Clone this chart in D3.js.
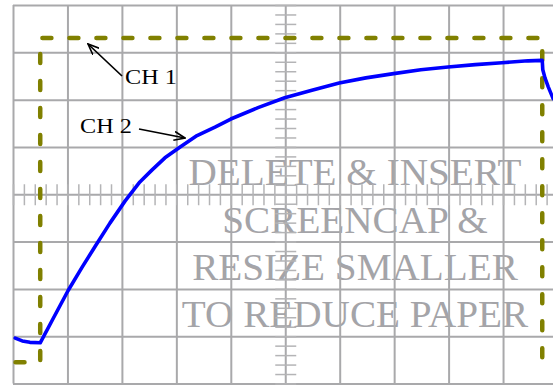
<!DOCTYPE html>
<html>
<head>
<meta charset="utf-8">
<script src="https://cdn.jsdelivr.net/npm/d3@7"></script>
<style>
  html, body { margin: 0; padding: 0; background: #fff; }
  svg { display: block; }
</style>
</head>
<body>
<svg id="scope" width="553" height="385"></svg>
<script>
// Screen grid: 10 horizontal divisions, 8 vertical divisions, 5 minor steps each
const xDivisions = d3.range(0, 11);
const yDivisions = d3.range(-4, 5);
const minorStep = 0.2;

// CH 1: square gate (time in divisions, level in divisions)
const ch1Time  = [0, 0.5, 0.5, 9.72, 9.72, 10.5];
const ch1Level = [-3.55, -3.55, 3.30, 3.30, -3.55, -3.55];

// CH 2: response trace
const ch2Time  = [0.04, 0.17, 0.31, 0.50, 0.75, 1.01, 1.27, 1.51, 1.78, 2.06, 2.33, 2.55, 2.79, 3.07,
                  3.38, 3.71, 4.00, 4.50, 4.99, 5.49, 5.99, 6.48, 6.99, 7.49, 7.99, 8.49, 8.98, 9.46,
                  9.72, 9.73, 9.77, 9.83, 9.92];
const ch2Level = [-3.04, -3.10, -3.13, -3.14, -2.60, -2.04, -1.54, -1.10, -0.61, -0.14, 0.26, 0.51, 0.77, 1.00,
                  1.24, 1.42, 1.59, 1.83, 2.04, 2.20, 2.35, 2.46, 2.55, 2.63, 2.69, 2.74, 2.78, 2.82,
                  2.83, 2.63, 2.46, 2.27, 2.02];

// Placeholder caption and channel labels
const captionLines = ["DELETE & INSERT", "SCREENCAP &", "RESIZE SMALLER", "TO REDUCE PAPER"];
const channelLabels = ["CH 1", "CH 2"];

const svg = d3.select("#scope");

const x = d3.scaleLinear().domain([0, 10]).range([13, 557.5]);
const y = d3.scaleLinear().domain([-4, 4]).range([383.5, 5]);

const gridColor = "#a9a9ab";
const textGray = "#a4a4a8";
const olive = "#808000";
const serif = "'Liberation Serif', 'Times New Roman', Times, serif";

// Caption (drawn under the graticule)
const caption = svg.append("g").attr("class", "caption");
const rowStep = y(0) - y(1);
captionLines.forEach((line, i) => {
  caption.append("text")
    .attr("transform", `translate(355,${y(0) - 9 + i * rowStep}) scale(1.06,1)`)
    .attr("text-anchor", "middle")
    .attr("font-family", serif)
    .attr("font-size", 37)
    .attr("fill", textGray)
    .text(line);
});

// Graticule: major lines
const grid = svg.append("g").attr("class", "grid");
grid.append("g")
  .attr("transform", `translate(0,${y(-4)})`)
  .call(d3.axisTop(x).tickValues(xDivisions).tickSize(y(-4) - y(4)).tickFormat(""))
  .call(g => g.select(".domain").remove())
  .call(g => g.selectAll(".tick line").attr("stroke", gridColor).attr("stroke-width", 2));
grid.append("g")
  .attr("transform", `translate(${x(0)},0)`)
  .call(d3.axisRight(y).tickValues(yDivisions).tickSize(x(10) - x(0)).tickFormat(""))
  .call(g => g.select(".domain").remove())
  .call(g => g.selectAll(".tick line").attr("stroke", gridColor).attr("stroke-width", 2));

// Graticule: minor ticks on the centre axes
const minorX = d3.range(0, 10 + 1e-9, minorStep).map(v => +v.toFixed(2));
const minorY = d3.range(-4, 4 + 1e-9, minorStep).map(v => +v.toFixed(2));
grid.append("g")
  .attr("transform", `translate(0,${y(0) - 10})`)
  .call(d3.axisBottom(x).tickValues(minorX).tickSize(21).tickFormat(""))
  .call(g => g.select(".domain").remove())
  .call(g => g.selectAll(".tick line").attr("stroke", "#b4b4b6").attr("stroke-width", 1.5));
grid.append("g")
  .attr("transform", `translate(${x(5) - 10},0)`)
  .call(d3.axisRight(y).tickValues(minorY).tickSize(21).tickFormat(""))
  .call(g => g.select(".domain").remove())
  .call(g => g.selectAll(".tick line").attr("stroke", "#b4b4b6").attr("stroke-width", 1.5));

// Traces
const line = d3.line().x(d => x(d[0])).y(d => y(d[1]));

svg.append("path")
  .datum(d3.zip(ch1Time, ch1Level))
  .attr("d", line)
  .attr("fill", "none")
  .attr("stroke", olive)
  .attr("stroke-width", 4.5)
  .attr("stroke-linecap", "round")
  .attr("stroke-dasharray", "9,18")
  .attr("stroke-dashoffset", -2.5);

svg.append("path")
  .datum(d3.zip(ch2Time, ch2Level))
  .attr("d", line)
  .attr("fill", "none")
  .attr("stroke", "#0000ff")
  .attr("stroke-width", 3.6)
  .attr("stroke-linejoin", "round")
  .attr("stroke-linecap", "round");

// Channel labels with pointer arrows
svg.append("defs").append("marker")
  .attr("id", "head")
  .attr("viewBox", "0 0 12 10")
  .attr("refX", 11).attr("refY", 5)
  .attr("markerWidth", 12).attr("markerHeight", 10)
  .attr("markerUnits", "userSpaceOnUse")
  .attr("orient", "auto")
  .append("path")
  .attr("d", "M0,0.5 L11,5 L0,9.5")
  .attr("fill", "none")
  .attr("stroke", "#000")
  .attr("stroke-width", 1.6);

svg.append("text")
  .attr("transform", "translate(125,84) scale(1.1,1)")
  .attr("font-family", serif).attr("font-size", 22).attr("fill", "#000")
  .text(channelLabels[0]);
svg.append("line")
  .attr("x1", 122).attr("y1", 76).attr("x2", 88).attr("y2", 44)
  .attr("stroke", "#000").attr("stroke-width", 1.7)
  .attr("marker-end", "url(#head)");

svg.append("text")
  .attr("transform", "translate(80,133) scale(1.1,1)")
  .attr("font-family", serif).attr("font-size", 22).attr("fill", "#000")
  .text(channelLabels[1]);
svg.append("line")
  .attr("x1", 139).attr("y1", 129).attr("x2", 185).attr("y2", 138)
  .attr("stroke", "#000").attr("stroke-width", 1.7)
  .attr("marker-end", "url(#head)");
</script>
</body>
</html>
